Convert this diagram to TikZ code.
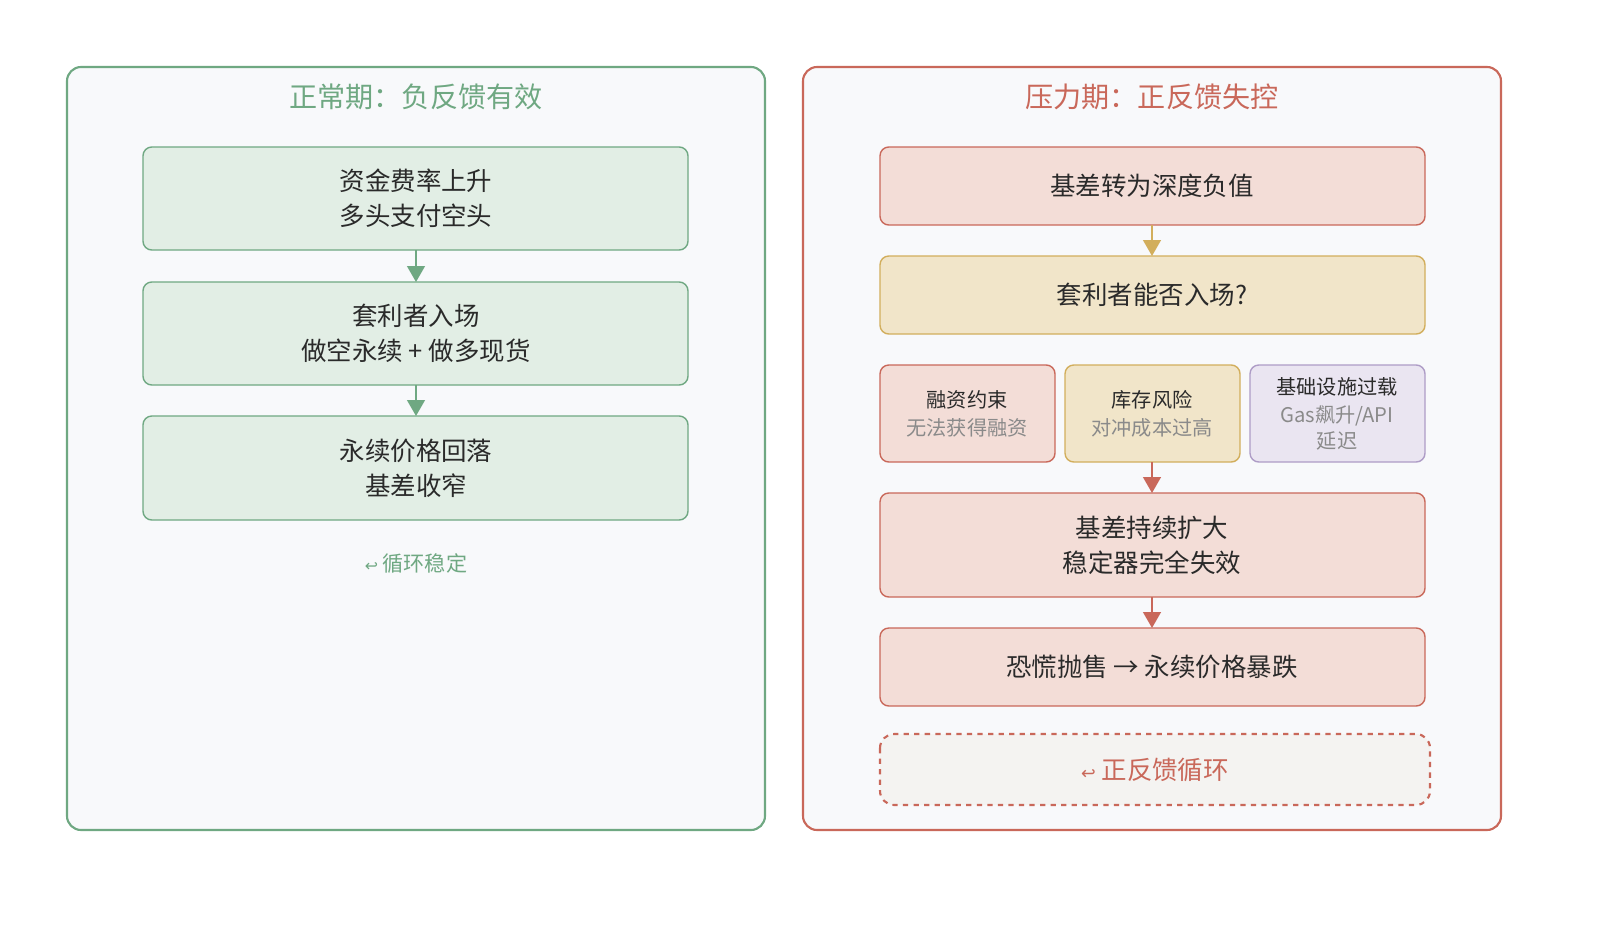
\documentclass[tikz,border=0pt]{standalone}
\usepackage{fontspec}
\setmainfont{Noto Sans CJK SC}
\newfontfamily\dv{DejaVu Sans}
\usetikzlibrary{arrows.meta}
\definecolor{gB}{HTML}{6FA882}\definecolor{gF}{HTML}{E2EEE5}
\definecolor{rB}{HTML}{C9685A}\definecolor{rF}{HTML}{F3DDD7}
\definecolor{yB}{HTML}{D2AE5C}\definecolor{yF}{HTML}{F1E5C9}
\definecolor{pB}{HTML}{AE9CC6}\definecolor{pF}{HTML}{EAE5F1}
\definecolor{pan}{HTML}{F8F9FB}\definecolor{txt}{HTML}{2A2A2A}
\definecolor{gry}{HTML}{8A8A8A}\definecolor{dF}{HTML}{F4F3F1}
\begin{document}
\begin{tikzpicture}[x=0.02cm,y=-0.02cm,
 panel/.style={draw=#1,line width=1.2pt,fill=pan,rounded corners=8pt},
 box/.style n args={2}{draw=#1,fill=#2,line width=0.8pt,rounded corners=5pt},
 t/.style={text=txt,font=\fontsize{14.5}{20}\selectfont,align=center},
 s/.style={text=txt,font=\fontsize{11.5}{15}\selectfont,align=center},
 arr/.style={draw=#1,line width=1.2pt,-{Triangle[length=9pt,width=10pt]}}]
\useasboundingbox (0,0) rectangle (1600,930);
\draw[panel=gB] (67,67) rectangle (765,830);
\draw[panel=rB] (803,67) rectangle (1501,830);
\node[text=gB,font=\fontsize{16}{20}\selectfont] (lt) at (416,97) {正常期：负反馈有效};
\node[text=rB,font=\fontsize{16}{20}\selectfont] (rt) at (1152,97) {压力期：正反馈失控};
% left
\draw[box={gB}{gF}] (143,147) rectangle (688,250);
\node[t] (l1) at (416,198) {资金费率上升\\多头支付空头};
\draw[box={gB}{gF}] (143,282) rectangle (688,385);
\node[t] (l2) at (416,333) {套利者入场\\做空永续 + 做多现货};
\draw[box={gB}{gF}] (143,416) rectangle (688,520);
\node[t] (l3) at (416,468) {永续价格回落\\基差收窄};
\coordinate (a1) at (416,250); \coordinate (b1) at (416,282);
\coordinate (a2) at (416,385); \coordinate (b2) at (416,416);
\draw[arr=gB] (a1) -- (b1); \draw[arr=gB] (a2) -- (b2);
\node[text=gB,font=\fontsize{12}{15}\selectfont] (ls) at (416,563) {{\dv\fontsize{9}{12}\selectfont ↩} 循环稳定};
% right
\draw[box={rB}{rF}] (880,147) rectangle (1425,225);
\node[t] (r1) at (1152,186) {基差转为深度负值};
\draw[box={yB}{yF}] (880,256) rectangle (1425,334);
\node[t] (r2) at (1152,295) {套利者能否入场?};
\draw[box={rB}{rF}] (880,365) rectangle (1055,462);
\node[s] (c1) at (967,414) {融资约束\\[1pt]{\color{gry}无法获得融资}};
\draw[box={yB}{yF}] (1065,365) rectangle (1240,462);
\node[s] (c2) at (1152,414) {库存风险\\[1pt]{\color{gry}对冲成本过高}};
\draw[box={pB}{pF}] (1250,365) rectangle (1425,462);
\node[s] (c3) at (1337,414) {基础设施过载\\[1pt]{\color{gry}Gas飙升/API}\\{\color{gry}延迟}};
\draw[box={rB}{rF}] (880,493) rectangle (1425,597);
\node[t] (r3) at (1152,545) {基差持续扩大\\稳定器完全失效};
\draw[box={rB}{rF}] (880,628) rectangle (1425,706);
\node[t] (r4) at (1152,667) {恐慌抛售 → 永续价格暴跌};
\draw[draw=rB,fill=dF,line width=1.2pt,dashed,rounded corners=8pt] (880,734) rectangle (1430,805);
\node[text=rB,font=\fontsize{14.5}{20}\selectfont] (r5) at (1155,770) {{\dv\fontsize{10}{12}\selectfont ↩} 正反馈循环};
\coordinate (p1) at (1152,225); \coordinate (q1) at (1152,256);
\coordinate (p2) at (1152,462); \coordinate (q2) at (1152,493);
\coordinate (p3) at (1152,597); \coordinate (q3) at (1152,628);
\draw[arr=yB] (p1) -- (q1); \draw[arr=rB] (p2) -- (q2); \draw[arr=rB] (p3) -- (q3);
\end{tikzpicture}
\end{document}
